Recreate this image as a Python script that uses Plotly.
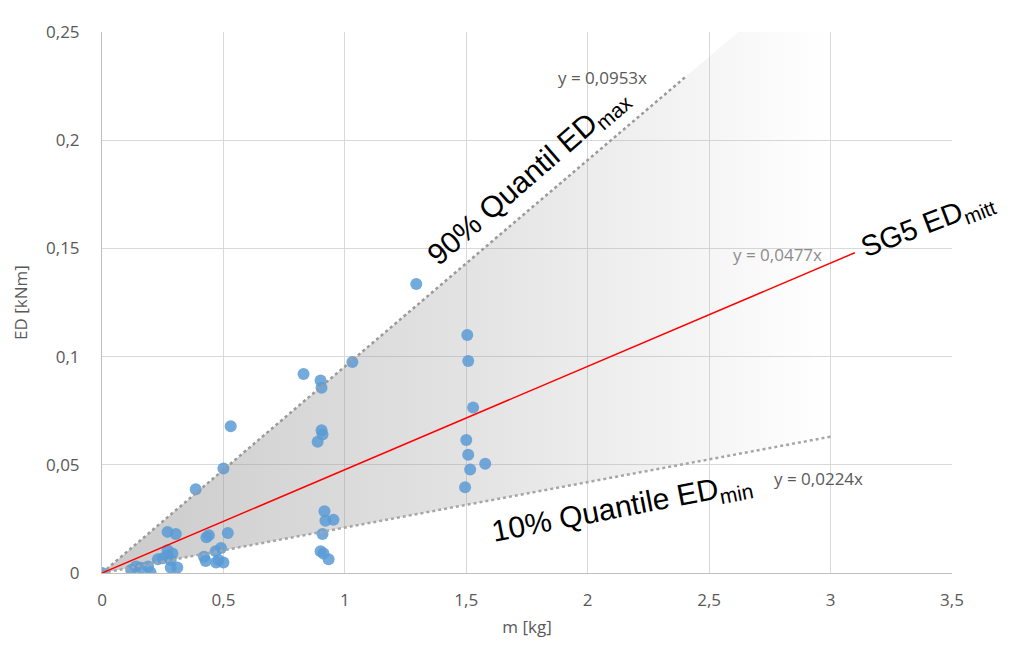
import plotly.graph_objects as go

# measured points m [kg], ED [kNm]
m_kg = [0.0, 1.294, 1.504, 1.508, 1.528, 1.500, 1.508, 1.516, 1.578, 1.495,
        1.031, 0.830, 0.900, 0.904, 0.904, 0.908, 0.888, 0.530, 0.500, 0.386,
        0.916, 0.920, 0.953, 0.908, 0.900, 0.912, 0.933,
        0.270, 0.304, 0.430, 0.440, 0.518, 0.270, 0.250, 0.283, 0.230,
        0.490, 0.468, 0.480, 0.500, 0.470, 0.420, 0.427, 0.120, 0.160, 0.200,
        0.190, 0.283, 0.310, 0.270, 0.140, 0.290]
ed_knm = [0.0, 0.1335, 0.110, 0.098, 0.0765, 0.0615, 0.0546, 0.0478, 0.0505, 0.0396,
          0.0975, 0.092, 0.089, 0.0856, 0.066, 0.064, 0.0606, 0.0678, 0.0483, 0.0387,
          0.0285, 0.0241, 0.0246, 0.0180, 0.0100, 0.0090, 0.0064,
          0.0190, 0.0180, 0.0165, 0.0175, 0.0185, 0.0105, 0.0068, 0.0060, 0.0063,
          0.0115, 0.0100, 0.0060, 0.0048, 0.0048, 0.0075, 0.0055, 0.0014, 0.0024, 0.0002,
          0.0030, 0.0025, 0.0025, 0.0080, 0.0030, 0.0090]

# trend lines
upper_x = [0, 2.4]
upper_y = [0, 0.229]
mid_x = [0, 3.1]
mid_y = [0, 0.148]
lower_x = [0, 3.0]
lower_y = [0, 0.063]

# shaded band
shade_x = [0, 2.62, 3.0, 3.0, 0]
shade_y = [0, 0.25, 0.25, 0.063, 0]

x_ticks = [0, 0.5, 1, 1.5, 2, 2.5, 3, 3.5]
x_tick_text = ["0", "0,5", "1", "1,5", "2", "2,5", "3", "3,5"]
y_ticks = [0, 0.05, 0.1, 0.15, 0.2, 0.25]
y_tick_text = ["0", "0,05", "0,1", "0,15", "0,2", "0,25"]

fig = go.Figure()

fig.add_trace(go.Scatter(
    x=shade_x, y=shade_y, mode="lines", fill="toself",
    line=dict(width=0, color="rgba(0,0,0,0)"),
    fillgradient=dict(type="horizontal",
                      colorscale=[[0, "rgba(150,150,150,0.50)"],
                                  [0.5, "rgba(150,150,150,0.27)"],
                                  [1, "rgba(150,150,150,0.0)"]]),
    hoverinfo="skip", showlegend=False))

fig.add_trace(go.Scatter(
    x=m_kg, y=ed_knm, mode="markers",
    marker=dict(size=12, color="#5B9BD5", opacity=0.85, line=dict(width=0)),
    showlegend=False))

fig.add_trace(go.Scatter(
    x=upper_x, y=upper_y, mode="lines",
    line=dict(color="#9a9a9a", width=2.5, dash="dot"), showlegend=False))
fig.add_trace(go.Scatter(
    x=lower_x, y=lower_y, mode="lines",
    line=dict(color="#a6a6a6", width=2.5, dash="dot"), showlegend=False))
fig.add_trace(go.Scatter(
    x=mid_x, y=mid_y, mode="lines",
    line=dict(color="#FF0000", width=1.5), showlegend=False))

big = dict(family="Liberation Sans, Arial, sans-serif", size=30, color="#000000")
small = dict(family="Open Sans, sans-serif", size=17, color="#595959")

fig.add_annotation(x=1.76, y=0.183, xref="x", yref="y",
                   text="90% Quantil ED<sub>max</sub>", textangle=-41,
                   showarrow=False, font=big)
fig.add_annotation(x=2.06, y=0.229, text="y = 0,0953x", showarrow=False, font=small)
fig.add_annotation(x=3.40, y=0.161, text="SG5 ED<sub>mitt</sub>", textangle=-21,
                   showarrow=False, font=dict(family="Liberation Sans, Arial, sans-serif",
                                              size=29, color="#000000"))
fig.add_annotation(x=2.78, y=0.147, text="y = 0,0477x", showarrow=False,
                   font=dict(family="Open Sans, sans-serif", size=17, color="#8c8c8c"))
fig.add_annotation(x=2.14, y=0.030, text="10% Quantile ED<sub>min</sub>", textangle=-11,
                   showarrow=False, font=big)
fig.add_annotation(x=2.95, y=0.0435, text="y = 0,0224x", showarrow=False, font=small)

fig.update_layout(
    width=1000, height=640,
    margin=dict(l=93, r=56, t=16, b=75),
    paper_bgcolor="white", plot_bgcolor="white",
    font=dict(family="Open Sans, sans-serif", size=17, color="#595959"),
    xaxis=dict(range=[0, 3.5], tickvals=x_ticks, ticktext=x_tick_text,
               showgrid=True, gridcolor="#d9d9d9", gridwidth=1,
               zeroline=False, showline=True, linecolor="#bfbfbf", linewidth=1,
               ticks="", ticklen=0, ticklabelstandoff=12,
               title=dict(text="m [kg]", font=dict(size=17, color="#595959"), standoff=10),
               tickfont=dict(size=17, color="#595959")),
    yaxis=dict(range=[0, 0.25], tickvals=y_ticks, ticktext=y_tick_text,
               showgrid=True, gridcolor="#d9d9d9", gridwidth=1,
               zeroline=False, showline=True, linecolor="#bfbfbf", linewidth=1,
               ticks="", ticklen=0, ticklabelstandoff=18,
               title=dict(text="ED [kNm]", font=dict(size=17, color="#595959"), standoff=14),
               tickfont=dict(size=17, color="#595959")),
)

fig.write_html("out.html")
